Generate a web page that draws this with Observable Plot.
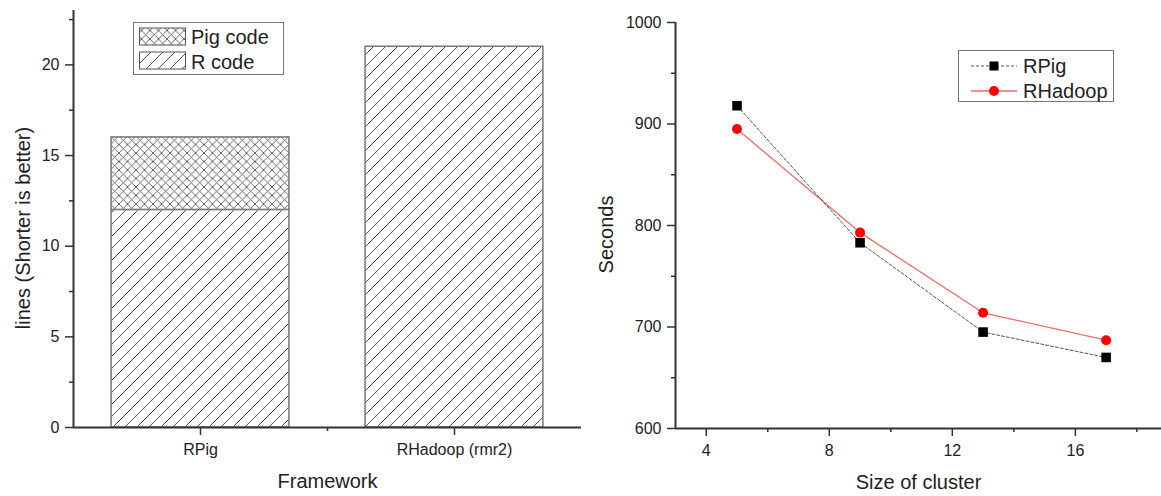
<!DOCTYPE html>
<html>
<head>
<meta charset="utf-8">
<script src="https://cdn.jsdelivr.net/npm/d3@7"></script>
<script src="https://cdn.jsdelivr.net/npm/@observablehq/plot@0.6"></script>
<style>
  html, body { margin: 0; padding: 0; background: white; }
  #wrap { position: relative; width: 1161px; height: 496px; display: flex; font-family: "Liberation Sans", Arial, sans-serif; }
  #wrap svg.chart { display: block; }
  g[aria-label="x-axis label"], g[aria-label="y-axis label"] { font-size: 20px; }
  g[aria-label="y-axis label"] { translate: 0 9px; }
  g[aria-label="x-axis tick label"], g[aria-label="y-axis tick label"] { font-size: 16px; }
  .legend { position: absolute; overflow: visible; }
  .legend text { font-family: "Liberation Sans", Arial, sans-serif; font-size: 20px; fill: #222; }
</style>
</head>
<body>
<div id="wrap"></div>
<script>
// ---------- Data: left chart (code length) ----------
const frameworks = ["RPig", "RHadoop (rmr2)"];
const rCodeLines = [12, 21];
const pigCodeLines = [4, 0];
const leftYTicks = [0, 5, 10, 15, 20];
const leftYMinorTicks = [2.5, 7.5, 12.5, 17.5, 22.5];
const leftXMinorTicks = [0.5];
const leftLegend = ["Pig code", "R code"];

// ---------- Data: right chart (run time) ----------
const clusterSizes = [5, 9, 13, 17];
const rpigSeconds = [918, 783, 695, 670];
const rhadoopSeconds = [895, 793, 714, 687];
const rightXTicks = [4, 8, 12, 16];
const rightXMinorTicks = [6, 10, 14, 18];
const rightYTicks = [600, 700, 800, 900, 1000];
const rightYMinorTicks = [650, 750, 850, 950];
const seriesNames = ["RPig", "RHadoop"];

const ns = "http://www.w3.org/2000/svg";
function patternDefs() {
  const defs = document.createElementNS(ns, "defs");
  defs.innerHTML = `
    <pattern id="hatchDiag" patternUnits="userSpaceOnUse" width="12" height="12">
      <rect width="12" height="12" fill="white"/>
      <path d="M-3,3 L3,-3 M0,12 L12,0 M9,15 L15,9" stroke="#555" stroke-width="1"/>
    </pattern>
    <pattern id="hatchCross" patternUnits="userSpaceOnUse" width="8.5" height="8.5">
      <rect width="8.5" height="8.5" fill="white"/>
      <path d="M0,0 L8.5,8.5 M8.5,0 L0,8.5" stroke="#555" stroke-width="0.9"/>
    </pattern>`;
  return defs;
}

const baseStyle = {fontFamily: "Liberation Sans, Arial, sans-serif", fontSize: "16px", color: "#222", background: "white"};
const plainFormat = d => String(d);

// ---------- Left chart ----------
const barRows = frameworks.map((f, i) => ({i, f, r: rCodeLines[i], pig: pigCodeLines[i]}));
const halfBar = 0.35;
const left = Plot.plot({
  width: 590, height: 496,
  marginLeft: 73, marginRight: 9, marginTop: 10, marginBottom: 69,
  x: {domain: [-0.5, 1.5]},
  y: {domain: [0, 23]},
  style: baseStyle,
  marks: [
    patternDefs,
    Plot.rectY(barRows, {x1: d => d.i - halfBar, x2: d => d.i + halfBar, y1: 0, y2: "r",
      fill: "url(#hatchDiag)", stroke: "#777", strokeWidth: 1.5}),
    Plot.rectY(barRows.filter(d => d.pig > 0), {x1: d => d.i - halfBar, x2: d => d.i + halfBar,
      y1: "r", y2: d => d.r + d.pig, fill: "url(#hatchCross)", stroke: "#777", strokeWidth: 1.5}),
    Plot.axisY(leftYTicks, {tickSize: 8, tickPadding: 6, strokeWidth: 1.5, stroke: "#333", fontSize: 16,
      tickFormat: plainFormat, label: "lines (Shorter is better)", labelAnchor: "center", labelOffset: 58, labelArrow: "none"}),
    Plot.axisY(leftYMinorTicks, {tickSize: 4, strokeWidth: 1.5, stroke: "#333", tickFormat: () => "", label: null}),
    Plot.axisX(frameworks.map((f, i) => i), {tickSize: 8, tickPadding: 8, strokeWidth: 1.5, stroke: "#333", fontSize: 16,
      tickFormat: i => frameworks[i], label: "Framework", labelAnchor: "center", labelOffset: 60, labelArrow: "none"}),
    Plot.axisX(leftXMinorTicks, {tickSize: 4, strokeWidth: 1.5, stroke: "#333", tickFormat: () => "", label: null}),
    Plot.ruleY([0], {stroke: "#333", strokeWidth: 2}),
    Plot.ruleX([-0.5], {stroke: "#333", strokeWidth: 2})
  ]
});
left.classList.add("chart");

// ---------- Right chart ----------
const rpigRows = clusterSizes.map((x, i) => ({x, y: rpigSeconds[i]}));
const rhadoopRows = clusterSizes.map((x, i) => ({x, y: rhadoopSeconds[i]}));
const right = Plot.plot({
  width: 571, height: 496,
  marginLeft: 85, marginRight: 0, marginTop: 22, marginBottom: 68,
  x: {domain: [3, 18.8]},
  y: {domain: [600, 1000]},
  style: baseStyle,
  marks: [
    Plot.line(rhadoopRows, {x: "x", y: "y", stroke: "#f26b6b", strokeWidth: 1.3}),
    Plot.line(rpigRows, {x: "x", y: "y", stroke: "#555", strokeWidth: 1, strokeDasharray: "3,2"}),
    Plot.dot(rhadoopRows, {x: "x", y: "y", r: 5, fill: "#ff0000", stroke: null}),
    Plot.dot(rpigRows, {x: "x", y: "y", r: 5.4, symbol: "square", fill: "black", stroke: null}),
    Plot.axisY(rightYTicks, {tickSize: 8, tickPadding: 6, strokeWidth: 1.5, stroke: "#333", fontSize: 16,
      tickFormat: plainFormat, label: "Seconds", labelAnchor: "center", labelOffset: 77, labelArrow: "none"}),
    Plot.axisY(rightYMinorTicks, {tickSize: 4, strokeWidth: 1.5, stroke: "#333", tickFormat: () => "", label: null}),
    Plot.axisX(rightXTicks, {tickSize: 8, tickPadding: 8, strokeWidth: 1.5, stroke: "#333", fontSize: 16,
      tickFormat: plainFormat, label: "Size of cluster", labelAnchor: "center", labelOffset: 60, labelArrow: "none"}),
    Plot.axisX(rightXMinorTicks, {tickSize: 4, strokeWidth: 1.5, stroke: "#333", tickFormat: () => "", label: null}),
    Plot.ruleY([600], {stroke: "#333", strokeWidth: 2}),
    Plot.ruleX([3], {stroke: "#333", strokeWidth: 2})
  ]
});
right.classList.add("chart");

const wrap = document.getElementById("wrap");
wrap.appendChild(left);
wrap.appendChild(right);

// ---------- Legends ----------
function legendSvg(x, y, w, h) {
  const s = document.createElementNS(ns, "svg");
  s.setAttribute("class", "legend");
  s.setAttribute("width", w);
  s.setAttribute("height", h);
  s.style.left = x + "px";
  s.style.top = y + "px";
  return s;
}
const lg1 = legendSvg(133, 22, 151, 53);
lg1.innerHTML = `
  <rect x="0.5" y="0.5" width="150" height="52" fill="white" stroke="#777" stroke-width="1"/>
  <rect x="6.5" y="6" width="46" height="17" fill="url(#hatchCross)" stroke="#555" stroke-width="1"/>
  <rect x="6.5" y="30" width="46" height="17" fill="url(#hatchDiag)" stroke="#555" stroke-width="1"/>
  <text x="58" y="21.5">${leftLegend[0]}</text>
  <text x="58" y="46.5">${leftLegend[1]}</text>`;
wrap.appendChild(lg1);

const lg2 = legendSvg(958, 50, 156, 52);
lg2.innerHTML = `
  <rect x="0.5" y="0.5" width="155" height="51" fill="white" stroke="#777" stroke-width="1"/>
  <line x1="13" x2="59" y1="16" y2="16" stroke="#555" stroke-width="1" stroke-dasharray="3,2"/>
  <rect x="31.5" y="11.5" width="9" height="9" fill="black"/>
  <line x1="13" x2="59" y1="41" y2="41" stroke="#f26b6b" stroke-width="1.3"/>
  <circle cx="36" cy="41" r="5" fill="#ff0000"/>
  <text x="65" y="23">${seriesNames[0]}</text>
  <text x="65" y="48">${seriesNames[1]}</text>`;
wrap.appendChild(lg2);
</script>
</body>
</html>
